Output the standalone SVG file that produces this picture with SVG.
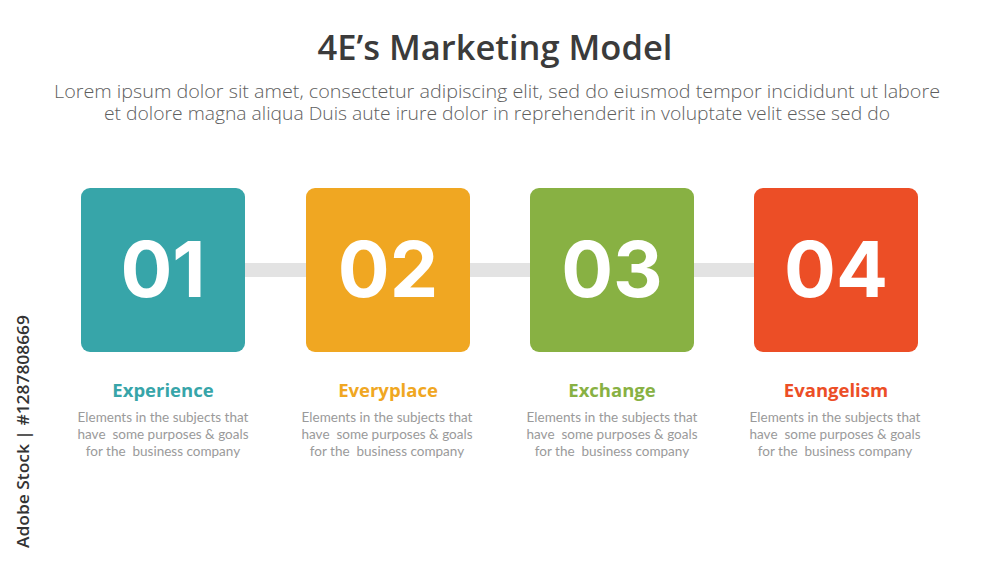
<svg xmlns="http://www.w3.org/2000/svg" width="1000" height="563" viewBox="0 0 1000 563">
<style>
.title{font-family:"Open Sans","Liberation Sans",sans-serif;font-weight:600;font-size:34.5px;fill:#3b3b3b;text-anchor:middle}
.sub{font-family:"Open Sans","Liberation Sans",sans-serif;font-weight:300;font-size:17.5px;fill:#5e5e5e;text-anchor:middle}
.num{font-family:"Inter","Open Sans",sans-serif;font-weight:700;font-size:77px;fill:#ffffff;text-anchor:middle}
.lbl{font-family:"Open Sans","Liberation Sans",sans-serif;font-weight:700;font-size:18.5px;text-anchor:middle}
.desc{font-family:"Lato","Open Sans",sans-serif;font-size:13.5px;fill:#9a9a9a;text-anchor:middle;white-space:pre}
.wm{font-family:"Open Sans","Liberation Sans",sans-serif;font-weight:600;font-size:17px;fill:#333333}
</style>
<rect width="1000" height="563" fill="#ffffff"/>
<text class="title" x="495" y="60">4E’s Marketing Model</text>
<text class="sub" x="497" y="98" textLength="886" lengthAdjust="spacingAndGlyphs">Lorem ipsum dolor sit amet, consectetur adipiscing elit, sed do eiusmod tempor incididunt ut labore</text>
<text class="sub" x="497" y="120" textLength="786" lengthAdjust="spacingAndGlyphs">et dolore magna aliqua Duis aute irure dolor in reprehenderit in voluptate velit esse sed do</text>
<g id="connectors">
<rect x="240" y="263" width="70" height="14" fill="#e3e3e3"/>
<rect x="465" y="263" width="70" height="14" fill="#e3e3e3"/>
<rect x="689" y="263" width="70" height="14" fill="#e3e3e3"/>
</g>
<g id="node1">
<rect x="81" y="188" width="164" height="164" rx="9" fill="#37a5a9"/>
<text class="num" x="163" y="297">01</text>
<text class="lbl" x="163" y="397" fill="#37a5a9">Experience</text>
<text class="desc" x="163" y="422">Elements in the subjects that</text>
<text class="desc" x="163" y="439">have  some purposes &amp; goals</text>
<text class="desc" x="163" y="456">for the  business company</text>
</g>
<g id="node2">
<rect x="306" y="188" width="164" height="164" rx="9" fill="#f0a722"/>
<text class="num" x="388" y="297">02</text>
<text class="lbl" x="388" y="397" fill="#f0a722">Everyplace</text>
<text class="desc" x="387" y="422">Elements in the subjects that</text>
<text class="desc" x="387" y="439">have  some purposes &amp; goals</text>
<text class="desc" x="387" y="456">for the  business company</text>
</g>
<g id="node3">
<rect x="530" y="188" width="164" height="164" rx="9" fill="#88b143"/>
<text class="num" x="612" y="297">03</text>
<text class="lbl" x="612" y="397" fill="#88b143">Exchange</text>
<text class="desc" x="612" y="422">Elements in the subjects that</text>
<text class="desc" x="612" y="439">have  some purposes &amp; goals</text>
<text class="desc" x="612" y="456">for the  business company</text>
</g>
<g id="node4">
<rect x="754" y="188" width="164" height="164" rx="9" fill="#ec4e26"/>
<text class="num" x="836" y="297">04</text>
<text class="lbl" x="836" y="397" fill="#ec4e26">Evangelism</text>
<text class="desc" x="835" y="422">Elements in the subjects that</text>
<text class="desc" x="835" y="439">have  some purposes &amp; goals</text>
<text class="desc" x="835" y="456">for the  business company</text>
</g>
<text class="wm" transform="translate(29,548) rotate(-90)" textLength="233" lengthAdjust="spacingAndGlyphs">Adobe Stock | #1287808669</text>
</svg>
